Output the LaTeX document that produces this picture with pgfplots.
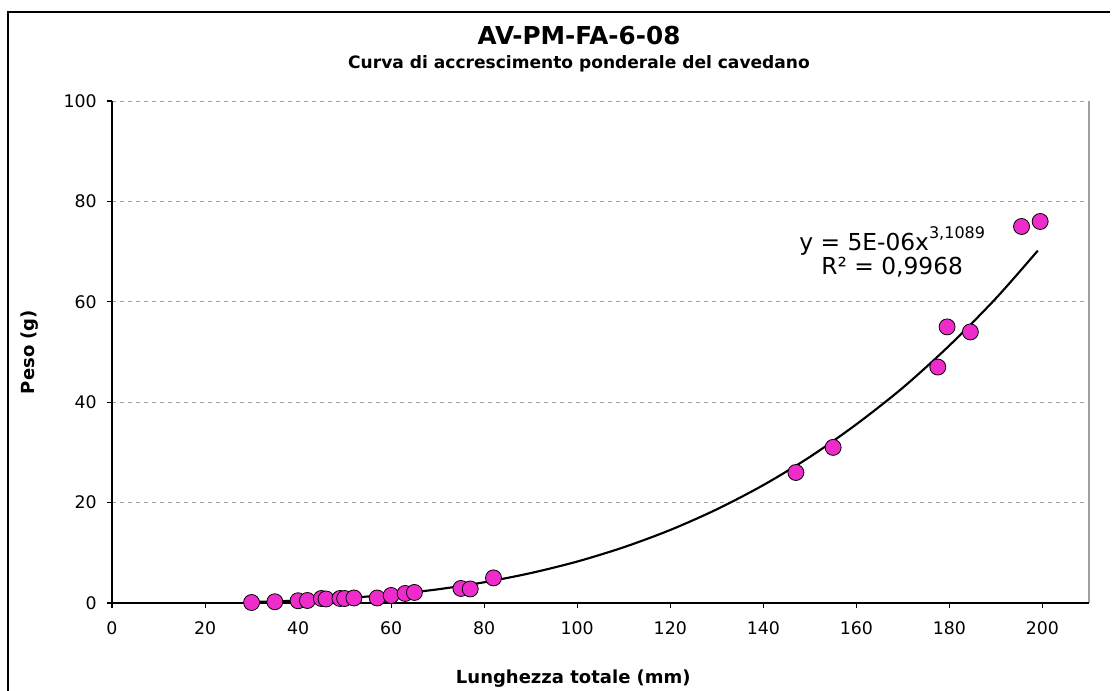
\documentclass[border=0pt]{standalone}
\usepackage{pgfplots}
\pgfplotsset{compat=1.18}
\usepackage{fontspec}
\setmainfont{DejaVu Sans}
\definecolor{ptfill}{RGB}{238,44,204}
\definecolor{gridgray}{RGB}{160,160,160}
\begin{document}
\begin{tikzpicture}
\useasboundingbox (0,0) rectangle (835.5pt,-518.25pt);
% outer chart frame (left and top visible)
\draw[line width=1.5pt] (6pt,-518.25pt) -- (6pt,-9pt) -- (832.5pt,-9pt);
\begin{axis}[
  at={(84pt,-452.25pt)}, anchor=south west,
  scale only axis, width=732.75pt, height=376.5pt,
  xmin=0, xmax=210, ymin=0, ymax=100,
  xtick={0,20,...,200}, ytick={0,20,...,100},
  xtick pos=bottom, ytick pos=left,
  tick align=outside, major tick length=4pt,
  tick style={black, line width=0.8pt},
  axis line style={draw=none},
  ymajorgrids, grid style={gridgray, dashed, line width=0.6pt},
  ticklabel style={font=\fontsize{13}{15}\selectfont},
  xticklabel style={yshift=-6.5pt},
  yticklabel style={xshift=-4pt},
  /pgf/number format/assume math mode=true,
  clip=false,
]
\draw[gridgray, line width=0.8pt] (rel axis cs:1,0) -- (rel axis cs:1,1);
\draw[black, line width=1.2pt] (rel axis cs:0,1) -- (rel axis cs:0,0) -- (rel axis cs:1,0);
\addplot[black, line width=1.6pt, smooth, no marks] coordinates {
(30,0.196) (40,0.478) (50,0.957) (60,1.69) (70,2.72) (80,4.13) (90,5.96)
(100,8.26) (110,11.11) (120,14.55) (130,18.66) (140,23.49) (150,29.1)
(160,35.6) (170,42.9) (180,51.3) (190,60.7) (199,70.2)
};
\addplot[only marks, mark=*, mark size=6pt,
  mark options={fill=ptfill, draw=black, line width=0.6pt}] coordinates {
(30,0.1) (35,0.25) (40,0.45) (42,0.5) (45,0.9) (46,0.8) (49,0.9) (50,0.9)
(52,1.0) (57,1.0) (60,1.5) (63,1.9) (65,2.1) (75,2.9) (77,2.8) (82,5.0)
(147,26) (155,31) (177.5,47) (179.5,55) (184.5,54) (195.5,75) (199.5,76)
};
\node[align=center, font=\fontsize{17.5}{18}\selectfont] at (axis cs:167.7,69.9)
  {y = 5E-06x\raisebox{0.5em}{\fontsize{12}{12}\selectfont 3,1089}\\R² = 0,9968};
\end{axis}
\node[font=\bfseries\fontsize{18.5}{20}\selectfont] at (434.25pt,-27pt) {AV-PM-FA-6-08};
\node[font=\bfseries\fontsize{12.8}{14}\selectfont] at (434.25pt,-47.5pt) {Curva di accrescimento ponderale del cavedano};
\node[font=\bfseries\fontsize{13.5}{15}\selectfont] at (430pt,-509pt) {Lunghezza totale (mm)};
\node[font=\bfseries\fontsize{13.5}{15}\selectfont, rotate=90] at (22.5pt,-264pt) {Peso (g)};
\end{tikzpicture}
\end{document}
